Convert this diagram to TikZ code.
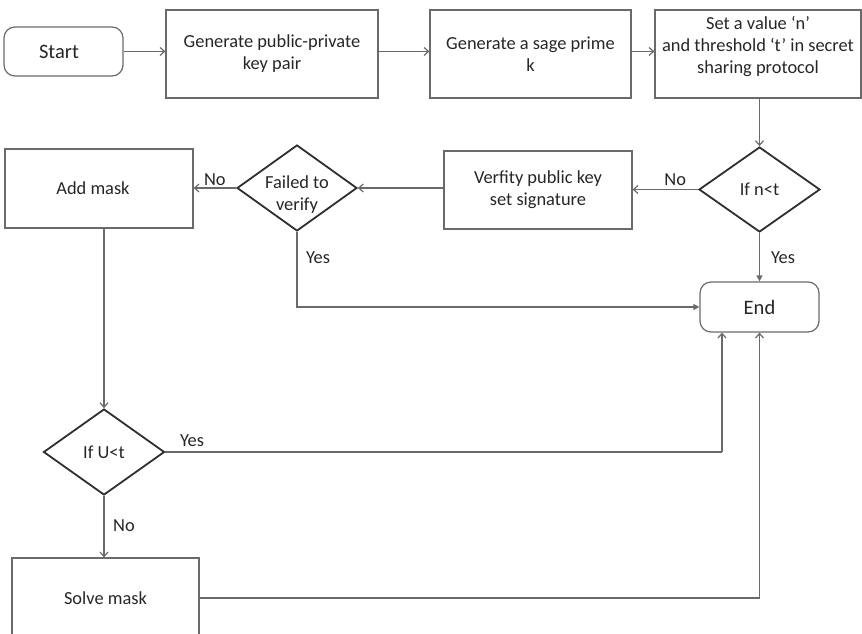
\documentclass[tikz,border=0pt]{standalone}
\usepackage{fontspec}
\setmainfont{Carlito}
\usetikzlibrary{shapes.geometric,arrows.meta}
\definecolor{ln}{HTML}{6A6A6A}
\definecolor{dk}{HTML}{2E2E2E}
\definecolor{tx}{HTML}{262626}
\begin{document}
\begin{tikzpicture}[x=1pt,y=-1pt,
  txt/.style={font=\fontsize{18.4}{22}\selectfont, text=tx, align=center, inner sep=0pt},
  box/.style={txt, draw=ln, line width=1.2pt, rectangle},
  term/.style={box, rounded corners=11pt, font=\fontsize{20.5}{24}\selectfont},
  diam/.style={txt, diamond, draw=dk, line width=1.8pt},
  con/.style={draw=ln, line width=1.2pt, -{Straight Barb[length=4.5pt,width=8pt]}},
  conf/.style={draw=ln, line width=1.2pt, -{Triangle[length=6pt,width=6pt]}},
  lab/.style={txt}]
\useasboundingbox (0,0) rectangle (862,634);
% nodes
\node[term, minimum width=119pt, minimum height=49pt] (st) at (63.5,51.5) {Start\hspace*{9pt}};
\node[box, minimum width=212pt, minimum height=88pt] (b1) at (272,54) {Generate public-private\\key pair};
\node[box, minimum width=201pt, minimum height=88pt] (b2) at (530.5,54) {Generate a sage prime\\k};
\node[box, minimum width=206pt, minimum height=88pt, text depth=18pt] (b3) at (758,54) {Set a value ‘n’\\and threshold ‘t’ in secret\\sharing protocol};
\node[diam, minimum width=121pt, minimum height=85pt] (nt) at (759.5,189.5) {If n<t};
\node[box, minimum width=188pt, minimum height=78pt] (vf) at (538,190) {Verfity public key\\set signature};
\node[diam, minimum width=120pt, minimum height=86pt] (fv) at (297,188) {};
\node[txt] (fvt) at (297,194.5) {Failed to\\verify};
\node[box, minimum width=188pt, minimum height=79pt] (am) at (99,188.5) {Add mask\hspace*{12pt}};
\node[term, minimum width=119pt, minimum height=50pt] (en) at (759.5,307) {End};
\node[diam, minimum width=121pt, minimum height=86pt] (ut) at (104,452) {If U<t};
\node[box, minimum width=187pt, minimum height=80pt] (sm) at (105.5,598) {Solve mask};
% connectors
\draw[con] (st.east) -- (st.east -| b1.west);
\draw[con] (b1.east |- st.east) -- (b2.west |- st.east);
\draw[con] (b2.east |- st.east) -- (b3.west |- st.east);
\draw[con] (b3.south -| nt.north) -- (nt.north);
\draw[con] (nt.west) -- (vf.east |- nt.west) node[lab, pos=0.35, above=3pt] (l1) {No};
\draw[con] (vf.west |- fv.east) -- (fv.east);
\draw[con] (fv.west) -- (am.east |- fv.west) node[lab, midway, above=2pt] (l2) {No};
\draw[conf] (fv.south) |- (en.west);
\draw[conf] (nt.south) -- (en.north);
\draw[con] (ut.north |- am.south) -- (ut.north);
\draw[con] ([xshift=-37.5pt]en.south |- ut.east) -- ([xshift=-37.5pt]en.south);
\draw[draw=ln, line width=1.2pt] (ut.east) -- ([xshift=-37.5pt]en.south |- ut.east);
\draw[con] (ut.south) -- (ut.south |- sm.north);
\draw[con] (sm.east) -| (en.south);
% labels
\node[lab] (l3) at (318,258) {Yes};
\node[lab] (l4) at (783,258) {Yes};
\node[lab] (l5) at (192,441) {Yes};
\node[lab] (l6) at (124,526) {No};
\end{tikzpicture}
\end{document}
